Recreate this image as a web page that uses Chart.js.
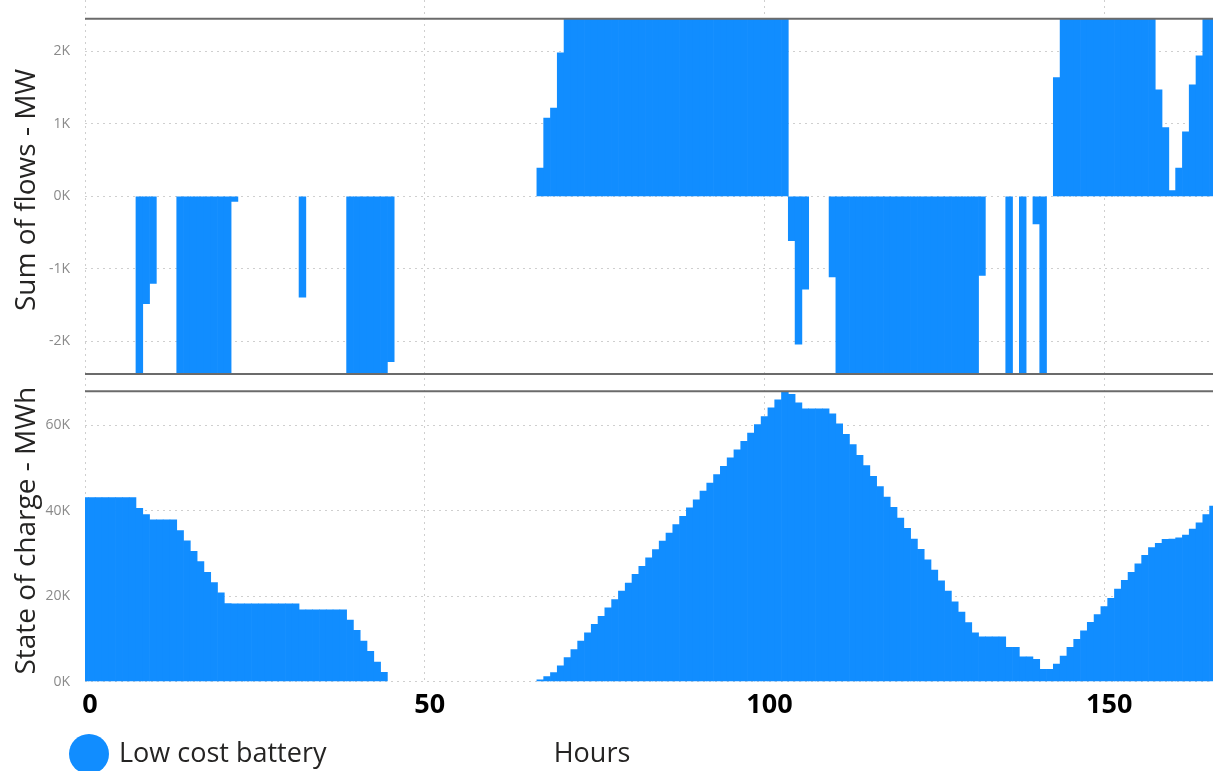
<!DOCTYPE html>
<html>
<head>
<meta charset="utf-8">
<title>Low cost battery</title>
<script src="https://cdn.jsdelivr.net/npm/chart.js@4.4.1/dist/chart.umd.min.js"></script>
<style>
    body { margin: 0; background: #fff; }
    #chart { display: block; }
</style>
</head>
<body>
<canvas id="chart" width="1213" height="771"></canvas>
<script>
// hourly flows of the battery, MW (bars hit the +/- power limit)
const flows = [
    0, 0, 0, 0, 0, 0, 0, 0, -2450, -1480,                               // 0-9
    -1200, 0, 0, 0, -2450, -2450, -2450, -2450, -2450, -2450,           // 10-19
    -2450, -2450, -70, 0, 0, 0, 0, 0, 0, 0,                             // 20-29
    0, 0, -1390, 0, 0, 0, 0, 0, 0, -2450,                               // 30-39
    -2450, -2450, -2450, -2450, -2450, -2280, 0, 0, 0, 0,               // 40-49
    0, 0, 0, 0, 0, 0, 0, 0, 0, 0,                                       // 50-59
    0, 0, 0, 0, 0, 0, 0, 390, 1080, 1220,                               // 60-69
    1980, 2450, 2450, 2450, 2450, 2450, 2450, 2450, 2450, 2450,         // 70-79
    2450, 2450, 2450, 2450, 2450, 2450, 2450, 2450, 2450, 2450,         // 80-89
    2450, 2450, 2450, 2450, 2450, 2450, 2450, 2450, 2450, 2450,         // 90-99
    2450, 2450, 2450, 2450, -610, -2040, -1280, 0, 0, 0,                // 100-109
    -1110, -2450, -2450, -2450, -2450, -2450, -2450, -2450, -2450, -2450, // 110-119
    -2450, -2450, -2450, -2450, -2450, -2450, -2450, -2450, -2450, -2450, // 120-129
    -2450, -2450, -1090, 0, 0, 0, -2450, 0, -2450, 0,                   // 130-139
    -380, -2450, 0, 1640, 2450, 2450, 2450, 2450, 2450, 2450,           // 140-149
    2450, 2450, 2450, 2450, 2450, 2450, 2450, 2450, 1470, 950,          // 150-159
    80, 390, 890, 1540, 1940, 2450, 2450                                // 160-166
];

// state of charge at the end of each hour, MWh
const charge = [
    43100, 43100, 43100, 43100, 43100, 43100, 43100, 43100, 40600, 39100, // 0-9
    37900, 37900, 37900, 37900, 35400, 33000, 30500, 28100, 25600, 23200, // 10-19
    20800, 18300, 18200, 18200, 18200, 18200, 18200, 18200, 18200, 18200, // 20-29
    18200, 18200, 16800, 16800, 16800, 16800, 16800, 16800, 16800, 14400, // 30-39
    12000, 9500, 7100, 4600, 2200, 0, 0, 0, 0, 0,                         // 40-49
    0, 0, 0, 0, 0, 0, 0, 0, 0, 0,                                         // 50-59
    0, 0, 0, 0, 0, 0, 0, 400, 1200, 2100,                                 // 60-69
    3700, 5600, 7500, 9500, 11400, 13400, 15300, 17300, 19200, 21200,     // 70-79
    23100, 25100, 27000, 29000, 30900, 32900, 34800, 36800, 38700, 40700, // 80-89
    42600, 44600, 46500, 48500, 50400, 52400, 54300, 56300, 58200, 60200, // 90-99
    62100, 64100, 66000, 68000, 67300, 65300, 63900, 63900, 63900, 63900, // 100-109
    62700, 60400, 57900, 55500, 53000, 50600, 48100, 45700, 43200, 40800, // 110-119
    38300, 35900, 33400, 31000, 28500, 26100, 23600, 21200, 18700, 16300, // 120-129
    13800, 11400, 10500, 10500, 10500, 10500, 8000, 8000, 5800, 5800,     // 130-139
    5200, 2900, 2900, 4100, 6000, 8000, 9900, 11900, 13900, 15700,        // 140-149
    17600, 19500, 21700, 23700, 25600, 27600, 29600, 31400, 32400, 33300, // 150-159
    33400, 33700, 34300, 35700, 37200, 39100, 41100                       // 160-166
];

const hours = flows.map((v, i) => i);

const flowLimit = 2450;   // MW
const chargeLimit = 68000; // MWh

const hourTicks = [0, 50, 100, 150];
const flowTicks = [-2000, -1000, 0, 1000, 2000];
const chargeTicks = [0, 20000, 40000, 60000];

const seriesName = 'Low cost battery';
const xTitle = 'Hours';

const blue = '#118DFF';
const gridColor = '#cfcfcf';
const limitColor = '#6b6b6b';
const textColor = '#252423';

Chart.defaults.font.family = "'Segoe UI', 'Open Sans', sans-serif";

const toK = v => (v / 1000) + 'K';
const setTicks = list => scale => { scale.ticks = list.map(v => ({ value: v })); };
const fixWidth = scale => { scale.width = 85; scale.paddingTop = 0; scale.paddingBottom = 0; };
// hours with no value get no bar at all (no hairline at zero)
const barColor = ctx => (ctx.raw === 0 ? 'rgba(0,0,0,0)' : blue);

function limitLine(value, axis) {
    return {
        type: 'line',
        data: [{ x: hours[0], y: value }, { x: hours[hours.length - 1], y: value }],
        yAxisID: axis,
        borderColor: limitColor,
        borderWidth: 2,
        pointRadius: 0,
        fill: false,
        order: 0
    };
}

// legend and x title sit on one row, like the original report
const bottomRow = {
    id: 'bottomRow',
    afterDraw(chart) {
        const ctx = chart.ctx;
        ctx.save();
        ctx.fillStyle = blue;
        ctx.beginPath();
        ctx.arc(89, 754, 20, 0, Math.PI * 2);
        ctx.fill();
        ctx.font = "27px 'Segoe UI', 'Open Sans', sans-serif";
        ctx.fillStyle = textColor;
        ctx.textBaseline = 'alphabetic';
        ctx.textAlign = 'left';
        ctx.fillText(seriesName, 119, 762);
        ctx.textAlign = 'center';
        ctx.fillText(xTitle, 592, 762);
        ctx.restore();
    }
};

const grid = { color: gridColor, lineWidth: 1, drawTicks: false, borderDash: [2, 4] };
const border = { display: false, dash: [2, 4] };

new Chart(document.getElementById('chart'), {
    type: 'bar',
    data: {
        labels: hours,
        datasets: [
            {
                label: seriesName,
                data: flows,
                yAxisID: 'yFlow',
                backgroundColor: barColor,
                grouped: false,
                barPercentage: 1,
                categoryPercentage: 1,
                order: 1
            },
            {
                label: seriesName,
                data: charge,
                yAxisID: 'yCharge',
                backgroundColor: barColor,
                grouped: false,
                barPercentage: 1,
                categoryPercentage: 1,
                order: 1
            },
            limitLine(flowLimit, 'yFlow'),
            limitLine(-flowLimit, 'yFlow'),
            limitLine(chargeLimit, 'yCharge')
        ]
    },
    options: {
        responsive: false,
        animation: false,
        devicePixelRatio: 1,
        layout: { padding: { top: 0, left: 0, right: 0, bottom: 41 }, autoPadding: false },
        plugins: {
            legend: { display: false },
            tooltip: { enabled: false }
        },
        scales: {
            x: {
                type: 'linear',
                min: 0,
                max: 166,
                offset: false,
                afterBuildTicks: setTicks(hourTicks),
                grid: { ...grid, offset: false },
                border: border,
                ticks: {
                    color: '#000',
                    padding: 8,
                    labelOffset: 5,
                    maxRotation: 0,
                    font: { size: 27, weight: 'bold' }
                }
            },
            yCharge: {
                position: 'left',
                stack: 'panels',
                stackWeight: 302,
                min: 0,
                max: 70700,
                afterBuildTicks: setTicks(chargeTicks),
                afterFit: fixWidth,
                grid: grid,
                border: border,
                ticks: { color: '#8a8a8a', padding: 15, font: { size: 14 }, callback: toK },
                title: {
                    display: true,
                    text: 'State of charge - MWh',
                    color: textColor,
                    font: { size: 28 },
                    padding: { top: 10, bottom: 0 }
                }
            },
            yFlow: {
                position: 'left',
                stack: 'panels',
                stackWeight: 380,
                min: -2530,
                max: 2710,
                afterBuildTicks: setTicks(flowTicks),
                afterFit: fixWidth,
                grid: grid,
                border: border,
                ticks: { color: '#8a8a8a', padding: 15, font: { size: 14 }, callback: toK },
                title: {
                    display: true,
                    text: 'Sum of flows - MW',
                    color: textColor,
                    font: { size: 28 },
                    padding: { top: 10, bottom: 0 }
                }
            }
        }
    },
    plugins: [bottomRow]
});
</script>
</body>
</html>
